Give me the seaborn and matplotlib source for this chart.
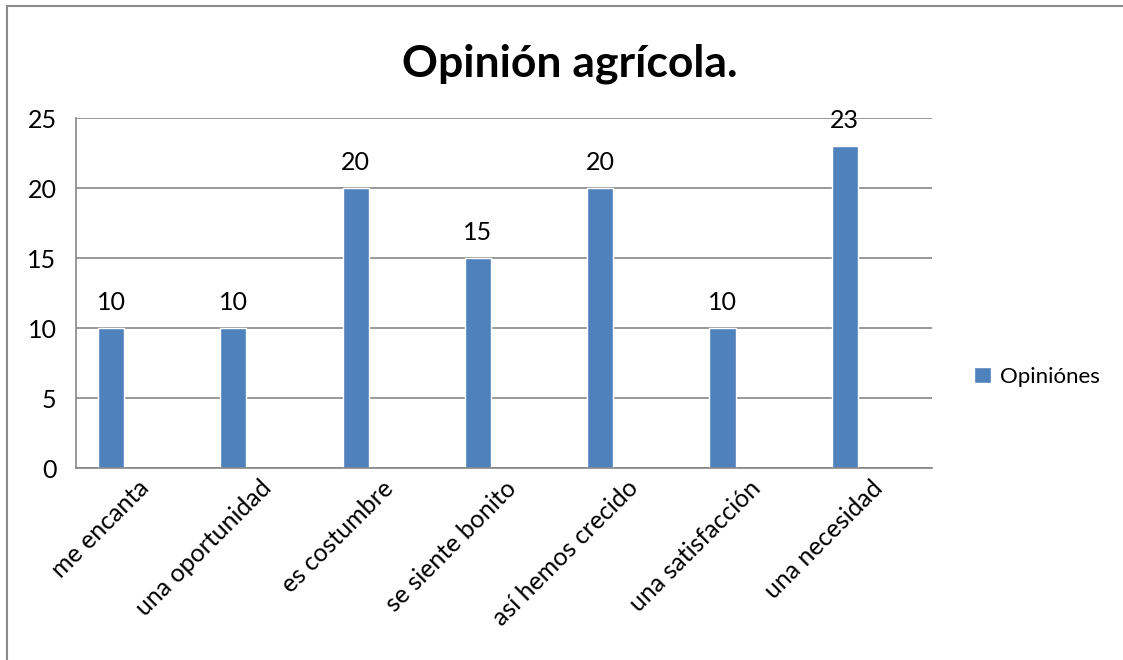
import matplotlib
matplotlib.use('Agg')
import matplotlib.pyplot as plt
import seaborn as sns
import pandas as pd
from matplotlib.patches import Rectangle
from matplotlib.lines import Line2D

# data
categorias = ['me encanta', 'una oportunidad', 'es costumbre', 'se siente bonito',
              'así hemos crecido', 'una satisfacción', 'una necesidad']
opiniones = [10, 10, 20, 15, 20, 10, 23]
serie = 'Opiniónes'
y_ticks = [0, 5, 10, 15, 20, 25]

sns.set_theme(style='white')
plt.rcParams['font.family'] = ['Lato', 'DejaVu Sans']
plt.rcParams['text.color'] = 'black'
plt.rcParams['xtick.color'] = 'black'
plt.rcParams['ytick.color'] = 'black'

df = pd.DataFrame({'categoria': categorias, 'valor': opiniones, 'serie': serie})

fig = plt.figure(figsize=(11.23, 6.6), dpi=100)
# chart border: only left and top edges show in the original
fig.add_artist(Line2D([7 / 1123, 7 / 1123], [0, 1 - 6 / 660], transform=fig.transFigure,
                      color='#898989', linewidth=1.5))
fig.add_artist(Line2D([7 / 1123, 1], [1 - 6 / 660, 1 - 6 / 660], transform=fig.transFigure,
                      color='#898989', linewidth=1.5))
ax = fig.add_axes([76 / 1123, 1 - 468 / 660, (932 - 76) / 1123, (468 - 118) / 660])

# three hue slots like the Excel clustered layout, only the first has data
sns.barplot(data=df, x='categoria', y='valor', hue='serie',
            hue_order=[serie, '_a', '_b'], palette=['#4F81BD', '#C0504D', '#9BBB59'],
            width=0.64, dodge=True, ax=ax, saturation=1, legend=False)

for c in ax.containers:
    ax.bar_label(c, fontsize=18, padding=10, color='black')

ax.set_ylim(0, 25)
ax.set_yticks(y_ticks)
ax.yaxis.grid(True, color='#868686', linewidth=1.2)
ax.set_axisbelow(True)
for s in ['top', 'right']:
    ax.spines[s].set_visible(False)
for s in ['left', 'bottom']:
    ax.spines[s].set_color('#868686')
    ax.spines[s].set_linewidth(1.2)
ax.tick_params(axis='y', labelsize=18, pad=14, length=0)
ax.tick_params(axis='x', labelsize=18, length=0, pad=6)
plt.setp(ax.get_xticklabels(), rotation=45, ha='right', rotation_mode='anchor')
ax.set_xlabel('')
ax.set_ylabel('')

ax.set_title('Opinión agrícola.', fontsize=32, fontweight='bold', x=0.577, pad=30)

handle = Rectangle((0, 0), 1, 1, facecolor='#4F81BD')
fig.legend([handle], [serie], loc='center left', bbox_to_anchor=(974 / 1123, 1 - 377 / 660),
           frameon=False, fontsize=16, handlelength=0.75, handleheight=0.75, handletextpad=0.4,
           borderpad=0, borderaxespad=0)

fig.savefig('out.png', dpi=100)
